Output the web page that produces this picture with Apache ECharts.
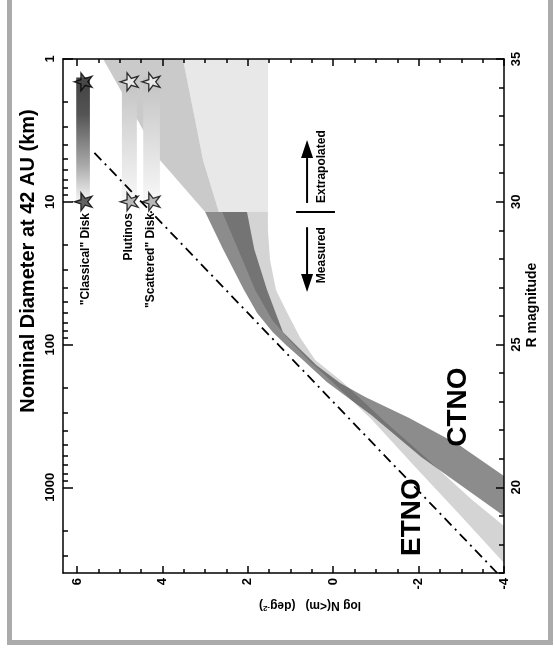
<!DOCTYPE html>
<html><head><meta charset="utf-8">
<script src="https://cdn.jsdelivr.net/npm/echarts@6/dist/echarts.min.js"></script>
<style>html,body{margin:0;padding:0;background:#fff}#c{width:554px;height:650px}</style>
</head><body><div id="c"></div>
<script>
// ---------------- data ----------------
const logNMajor = [-4, -2, 0, 2, 4, 6];
const logNMinor = [-4,-3.5,-3,-2.5,-2,-1.5,-1,-0.5,0,0.5,1,1.5,2,2.5,3,3.5,4,4.5,5,5.5,6];
const rMagMajor = [20, 25, 30, 35];
const rMagMinor = [17,18,19,20,21,22,23,24,25,26,27,28,29,30,31,32,33,34,35];
const diamMajor = [1, 10, 100, 1000];
const diamMinor = [2,3,4,5,6,7,8,9,20,30,40,50,60,70,80,90,200,300,400,500,600,700,800,900,2000,3000];

// CTNO band (measured)
const ctnoHiR    = [18.5, 19.0, 21.06, 22.53, 23.69, 24.46, 24.98, 25.44, 26.1, 26.91, 28.34, 29.64];
const ctnoHiLogN = [-4.45, -4.0, -2.06, -0.89, 0.15, 0.71, 1.10, 1.42, 1.78, 2.09, 2.58, 3.00];
const ctnoLoR    = [19.9, 20.40, 21.48, 22.43, 23.16, 23.65, 24.28, 24.98, 25.44, 26.91, 28.34, 29.64];
const ctnoLoLogN = [-4.5, -4.0, -2.95, -1.78, -0.75, -0.16, 0.40, 0.87, 1.18, 1.55, 1.85, 2.02];
// ETNO band (measured)
const etnoHiR    = [17.0, 17.35, 19.03, 20.71, 22.39, 23.69, 24.46, 25.16, 25.86, 26.91, 28.34, 29.64];
const etnoHiLogN = [-4.22, -4.0, -2.97, -1.92, -0.89, 0.02, 0.58, 1.03, 1.43, 1.83, 2.23, 2.60];
const etnoLoR    = [18.2, 18.65, 19.59, 21.06, 22.36, 23.69, 24.46, 25.26, 26.21, 26.91, 27.96, 29.01, 29.64];
const etnoLoLogN = [-4.35, -4.0, -3.23, -2.15, -1.17, -0.22, 0.42, 0.78, 1.11, 1.34, 1.48, 1.53, 1.53];
// Extrapolated regions
const extR      = [29.64, 31.46, 33.2, 35];
const ctnoExtHi = [3.00, 4.06, 4.71, 5.39];
const ctnoExtLo = [2.68, 3.05, 3.28, 3.52];
const etnoExtHi = [2.68, 3.05, 3.28, 3.52];
const etnoExtLo = [1.53, 1.53, 1.53, 1.53];
// dash-dot reference line
const dashR    = [17.0, 31.8];
const dashLogN = [-3.84, 5.65];
// population markers
const starR = [34.2, 30.0];
const classicalLogN = 5.86, plutinoLogN = 4.78, scatteredLogN = 4.27;
const barR = [30.0, 34.35];
const classicalBarLogN = [5.70, 6.02];
const plutinoBarLogN   = [4.60, 4.95];
const scatteredBarLogN = [4.06, 4.45];

// ---------------- chart ----------------
const chart = echarts.init(document.getElementById('c'), null, {renderer: 'canvas'});
const FONT = 'Liberation Sans, Arial, Helvetica, sans-serif';
const axisLine = {color: '#000', width: 1.5};
const rFromDiam = d => 35 - 5 * Math.log10(d);

function band(hiR, hiN, loR, loN, fill, z) {
  return {
    type: 'custom', xAxisIndex: 0, yAxisIndex: 0, clip: true, silent: true, z: z,
    data: [[hiN[0], hiR[0]]],
    renderItem: function (params, api) {
      const pts = [];
      for (let i = 0; i < hiR.length; i++) pts.push(api.coord([hiN[i], hiR[i]]));
      for (let i = loR.length - 1; i >= 0; i--) pts.push(api.coord([loN[i], loR[i]]));
      return {type: 'polygon', shape: {points: pts}, style: {fill: fill, stroke: null}};
    }
  };
}
function bar(nRange, stops) {
  return {
    type: 'custom', xAxisIndex: 0, yAxisIndex: 0, clip: true, silent: true, z: 3,
    data: [[nRange[0], barR[0]]],
    renderItem: function (params, api) {
      const a = api.coord([nRange[1], barR[1]]);
      const b = api.coord([nRange[0], barR[0]]);
      return {type: 'rect', shape: {x: a[0], y: a[1], width: b[0] - a[0], height: b[1] - a[1]},
        style: {fill: new echarts.graphic.LinearGradient(0, 0, 0, 1, stops)}};
    }
  };
}
const starPath = 'path://M50,0 L61.2,34.5 L97.6,34.5 L68.2,55.9 L79.4,90.5 L50,69.1 L20.6,90.5 L31.8,55.9 L2.4,34.5 L38.8,34.5 Z';

function xAx(pos, vals, len, showLine, showLabel) {
  return {type: 'value', min: -4, max: 6.33, inverse: true, position: pos, z: 10,
    axisLine: {show: showLine, onZero: false, lineStyle: axisLine}, splitLine: {show: false},
    axisTick: {show: true, inside: true, length: len, customValues: vals, lineStyle: axisLine},
    axisLabel: showLabel ? {show: true, customValues: vals, rotate: 90, margin: 5,
      fontFamily: FONT, fontWeight: 'bold', fontSize: 13, color: '#000'} : {show: false}};
}
function yAx(pos, vals, len, showLine, label) {
  return {type: 'value', min: 17, max: 35, position: pos, z: 10,
    axisLine: {show: showLine, onZero: false, lineStyle: axisLine}, splitLine: {show: false},
    axisTick: {show: true, inside: true, length: len, customValues: vals, lineStyle: axisLine},
    axisLabel: label ? Object.assign({show: true, customValues: vals, rotate: 90, margin: 6,
      fontFamily: FONT, fontWeight: 'bold', fontSize: 13, color: '#000'}, label) : {show: false}};
}

const option = {
  animation: false,
  backgroundColor: '#fff',
  grid: {left: 63, right: 50, top: 59, bottom: 77},
  xAxis: [
    xAx('bottom', logNMajor, 7, true, true),
    xAx('bottom', logNMinor, 4, false, false),
    xAx('top', logNMajor, 7, true, false),
    xAx('top', logNMinor, 4, false, false)
  ],
  yAxis: [
    yAx('right', rMagMajor, 8, true, {}),
    yAx('right', rMagMinor, 5, false, null),
    yAx('left', diamMajor.map(rFromDiam), 10, true, {
      formatter: v => String(Math.round(Math.pow(10, (35 - v) / 5)))}),
    yAx('left', diamMinor.map(rFromDiam), 5, false, null)
  ],
  series: [
    band(extR, etnoExtHi, extR, etnoExtLo, '#e8e8e8', 1),
    band(extR, ctnoExtHi, extR, ctnoExtLo, '#cacaca', 1.5),
    band(etnoHiR, etnoHiLogN, etnoLoR, etnoLoLogN, 'rgba(0,0,0,0.17)', 2),
    band(ctnoHiR, ctnoHiLogN, ctnoLoR, ctnoLoLogN, 'rgba(0,0,0,0.45)', 2),
    bar(classicalBarLogN, [{offset: 0, color: '#404040'}, {offset: 0.3, color: '#555555'},
                           {offset: 0.7, color: '#a8a8a8'}, {offset: 1, color: '#f6f6f6'}]),
    bar(plutinoBarLogN, [{offset: 0, color: '#c2c2c2'}, {offset: 1, color: '#f8f8f8'}]),
    bar(scatteredBarLogN, [{offset: 0, color: '#c2c2c2'}, {offset: 1, color: '#f8f8f8'}]),
    {type: 'line', xAxisIndex: 0, yAxisIndex: 0, z: 4, silent: true,
     data: dashLogN.map((n, i) => [n, dashR[i]]), showSymbol: false, symbol: 'none',
     lineStyle: {color: '#000', width: 1.8, type: [10, 5, 2, 5]}},
    {type: 'scatter', xAxisIndex: 0, yAxisIndex: 0, z: 5, silent: true,
     symbol: starPath, symbolSize: 18, symbolRotate: 90,
     itemStyle: {borderColor: '#000', borderWidth: 1.3},
     data: [
       {value: [classicalLogN, starR[0]], itemStyle: {color: '#4a4a4a'}},
       {value: [classicalLogN, starR[1]], itemStyle: {color: '#3c3c3c'}},
       {value: [plutinoLogN, starR[0]], itemStyle: {color: '#f4f4f4'}},
       {value: [plutinoLogN, starR[1]], itemStyle: {color: '#a8a8a8'}},
       {value: [scatteredLogN, starR[0]], itemStyle: {color: '#f4f4f4'}},
       {value: [scatteredLogN, starR[1]], itemStyle: {color: '#a8a8a8'}}
     ]}
  ]
};
chart.setOption(option);

// ---------------- annotations ----------------
function px(n, r) { return chart.convertToPixel({xAxisIndex: 0, yAxisIndex: 0}, [n, r]); }
function vtext(n, r, text, size, align, rot) {
  const p = px(n, r);
  return {type: 'text', x: p[0], y: p[1], rotation: rot === undefined ? Math.PI / 2 : rot, z: 20, silent: true,
    style: {text: text, fill: '#000', font: 'bold ' + size + 'px ' + FONT,
      align: align, textAlign: align, verticalAlign: 'middle', textVerticalAlign: 'middle'}};
}
function arrow(n, rFrom, rTip) {
  const a = px(n, rFrom), t = px(n, rTip);
  const dir = t[1] < a[1] ? 1 : -1; // 1 => pointing up
  const baseY = t[1] + dir * 18;
  return [
    {type: 'line', z: 20, silent: true, shape: {x1: a[0], y1: a[1], x2: t[0], y2: baseY},
     style: {stroke: '#000', lineWidth: 2}},
    {type: 'polygon', z: 20, silent: true,
     shape: {points: [[t[0], t[1]], [t[0] - 6, baseY], [t[0] + 6, baseY]]}, style: {fill: '#000'}}
  ];
}
const sepA = px(0.87, 29.64), sepB = px(-0.04, 29.64);
const gray = '#ababab';
const graphics = [
  {type: 'rect', shape: {x: 7, y: 0, width: 5, height: 645}, style: {fill: gray}, silent: true, z: 20},
  {type: 'rect', shape: {x: 548, y: 0, width: 5, height: 645}, style: {fill: gray}, silent: true, z: 20},
  {type: 'rect', shape: {x: 7, y: 640, width: 546, height: 5}, style: {fill: gray}, silent: true, z: 20},
  // axis titles
  {type: 'text', x: 28, y: 261, rotation: Math.PI / 2, z: 20, silent: true,
   style: {text: 'Nominal Diameter at 42 AU (km)', fill: '#000', font: 'bold 20px ' + FONT,
     align: 'center', textAlign: 'center', verticalAlign: 'middle', textVerticalAlign: 'middle'}},
  {type: 'text', x: 532, y: 305, rotation: Math.PI / 2, z: 20, silent: true,
   style: {text: 'R magnitude', fill: '#000', font: 'bold 14px ' + FONT,
     align: 'center', textAlign: 'center', verticalAlign: 'middle', textVerticalAlign: 'middle'}},
  {type: 'text', x: 310, y: 605, rotation: Math.PI, z: 20, silent: true,
   style: {text: '{a|log N(<m)   (deg}{s|-2}{a|)}', fill: '#000',
     align: 'center', textAlign: 'center', verticalAlign: 'middle', textVerticalAlign: 'middle',
     rich: {a: {font: 'bold 12px ' + FONT, fill: '#000'},
            s: {font: 'bold 8px ' + FONT, fill: '#000', verticalAlign: 'top', padding: [0, 0, 6, 0]}}}},
  // labels in plot
  vtext(5.79, 29.6, '"Classical" Disk', 12, 'right'),
  vtext(4.78, 29.6, 'Plutinos', 12, 'right'),
  vtext(4.27, 29.6, '"Scattered" Disk', 12, 'right'),
  vtext(0.26, 29.11, 'Measured', 12, 'right'),
  vtext(0.26, 29.96, 'Extrapolated', 12, 'left'),
  vtext(-1.85, 18.96, 'ETNO', 28, 'center'),
  vtext(-2.92, 22.81, 'CTNO', 28, 'center'),
  {type: 'line', z: 20, silent: true, shape: {x1: sepA[0], y1: sepA[1], x2: sepB[0], y2: sepB[1]},
   style: {stroke: '#000', lineWidth: 2}}
].concat(arrow(0.613, 29.96, 32.16)).concat(arrow(0.613, 29.11, 26.84));
chart.setOption({graphic: graphics});
</script>
</body></html>
